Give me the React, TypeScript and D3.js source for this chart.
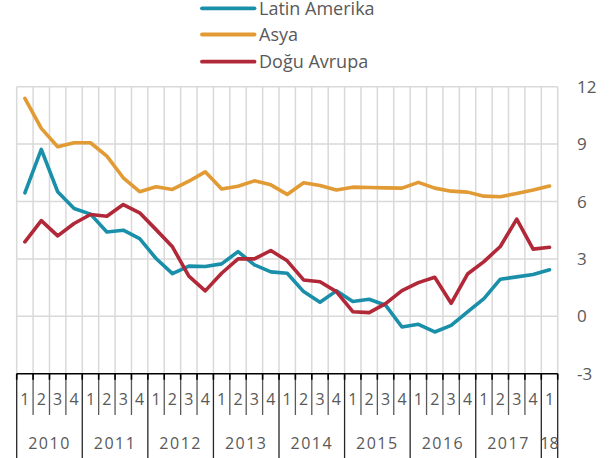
import React from "react";
import * as d3 from "d3";

const years = ["2010", "2011", "2012", "2013", "2014", "2015", "2016", "2017", "18"];
const quarterLabels = ["1", "2", "3", "4"];
const yTicks = [-3, 0, 3, 6, 9, 12];

const seriesNames = ["Latin Amerika", "Asya", "Doğu Avrupa"];
const seriesColors = ["#1A8FA9", "#E29A34", "#B12839"];

const latinAmerika = [6.45, 8.72, 6.51, 5.63, 5.34, 4.41, 4.5, 4.06, 3.02, 2.23, 2.62, 2.6, 2.74, 3.38, 2.69, 2.32, 2.25, 1.29, 0.73, 1.33, 0.77, 0.89, 0.58, -0.56, -0.42, -0.82, -0.47, 0.23, 0.92, 1.94, 2.06, 2.18, 2.43];
const asya = [11.39, 9.82, 8.86, 9.07, 9.07, 8.37, 7.24, 6.51, 6.77, 6.63, 7.06, 7.55, 6.65, 6.8, 7.08, 6.87, 6.37, 6.98, 6.84, 6.6, 6.75, 6.73, 6.71, 6.7, 7.0, 6.7, 6.54, 6.49, 6.28, 6.25, 6.42, 6.6, 6.81];
const doguAvrupa = [3.89, 5.0, 4.2, 4.85, 5.32, 5.23, 5.84, 5.41, 4.53, 3.63, 2.1, 1.33, 2.25, 3.0, 3.0, 3.44, 2.9, 1.9, 1.81, 1.29, 0.24, 0.19, 0.66, 1.34, 1.76, 2.04, 0.68, 2.21, 2.86, 3.65, 5.08, 3.51, 3.61];

const seriesData = [latinAmerika, asya, doguAvrupa];

// category keys: year-quarter
const categories: { key: string; q: string; y: number }[] = [];
years.forEach((yr, yi) => {
  const nq = yr === "18" ? 1 : 4;
  for (let q = 0; q < nq; q++) categories.push({ key: `${yr}-${q + 1}`, q: quarterLabels[q], y: yi });
});

const W = 609;
const H = 458;
const left = 16.7;
const right = 557.7;
const top = 86.7;
const bottom = 373.7;
const font = "'Open Sans', 'Liberation Sans', sans-serif";
const textColor = "#595959";

export default function App() {
  const x = d3.scaleBand<string>().domain(categories.map((c) => c.key)).range([left, right]).paddingInner(0).paddingOuter(0);
  const y = d3.scaleLinear().domain([-3, 12]).range([bottom, top]);
  const bw = x.bandwidth();
  const cx = (i: number) => (x(categories[i].key) as number) + bw / 2;

  const line = d3
    .line<number>()
    .x((_, i) => cx(i))
    .y((d) => y(d));

  const boundaries = categories.map((c) => x(c.key) as number).concat([right]);
  const yearStart = (yi: number) => categories.findIndex((c) => c.y === yi);

  const yearGroups = years.map((yr, yi) => {
    const idx = categories.map((c, i) => (c.y === yi ? i : -1)).filter((i) => i >= 0);
    const x0 = x(categories[idx[0]].key) as number;
    const x1 = (x(categories[idx[idx.length - 1]].key) as number) + bw;
    return { yr, x0, x1 };
  });

  return (
    <svg width={W} height={H} style={{ position: "absolute", left: 0, top: 0, background: "#fff" }}>
      {/* horizontal gridlines */}
      {yTicks.filter((t) => t !== -3).map((t) => (
        <line key={"h" + t} x1={left} x2={right} y1={y(t)} y2={y(t)} stroke="#d9d9d9" strokeWidth={1.5} />
      ))}
      {/* vertical gridlines */}
      {boundaries.map((bx, i) => (
        <line key={"v" + i} x1={bx} x2={bx} y1={top} y2={bottom} stroke="#d9d9d9" strokeWidth={1.5} />
      ))}
      {/* category separators below axis */}
      {boundaries.map((bx, i) => {
        const isYear = i === boundaries.length - 1 || yearGroups.some((g) => Math.abs(g.x0 - bx) < 0.01);
        return (
          <g key={"s" + i}>
            <line x1={bx} x2={bx} y1={bottom} y2={isYear ? 458 : 415} stroke={isYear ? "#262626" : "#595959"} strokeWidth={1.3} />
            <line x1={bx} x2={bx} y1={bottom} y2={bottom + 6} stroke="#000" strokeWidth={1.6} />
          </g>
        );
      })}
      {/* axis line */}
      <line x1={left} x2={right} y1={bottom} y2={bottom} stroke="#000" strokeWidth={1.4} />
      {/* quarter labels */}
      {categories.map((c, i) => (
        <text key={"q" + i} x={cx(i)} y={405} textAnchor="middle" fontFamily={font} fontSize={16} fill={textColor}>
          {c.q}
        </text>
      ))}
      {/* year labels */}
      {yearGroups.map((g) => (
        <text key={"y" + g.yr} x={(g.x0 + g.x1) / 2} y={448.5} textAnchor="middle" fontFamily={font} fontSize={16} letterSpacing={g.yr.length > 2 ? 1.5 : 0} fill={textColor}>
          {g.yr}
        </text>
      ))}
      {/* right axis labels */}
      {yTicks.map((t) => (
        <text key={"yt" + t} x={577} y={y(t)} dy="0.36em" fontFamily={font} fontSize={17} fill={textColor}>
          {t}
        </text>
      ))}
      {/* series lines */}
      {seriesData.map((s, si) => (
        <path key={"l" + si} d={line(s) as string} fill="none" stroke={seriesColors[si]} strokeWidth={3.6} strokeLinejoin="round" strokeLinecap="round" />
      ))}
      {/* legend */}
      {seriesNames.map((n, si) => {
        const ly = [8.3, 34.5, 61.7][si];
        return (
          <g key={"lg" + si}>
            <line x1={202} x2={254.5} y1={ly} y2={ly} stroke={seriesColors[si]} strokeWidth={3.8} strokeLinecap="round" />
            <text x={259} y={ly} dy="0.36em" fontFamily={font} fontSize={18} fill={textColor}>
              {n}
            </text>
          </g>
        );
      })}
    </svg>
  );
}
